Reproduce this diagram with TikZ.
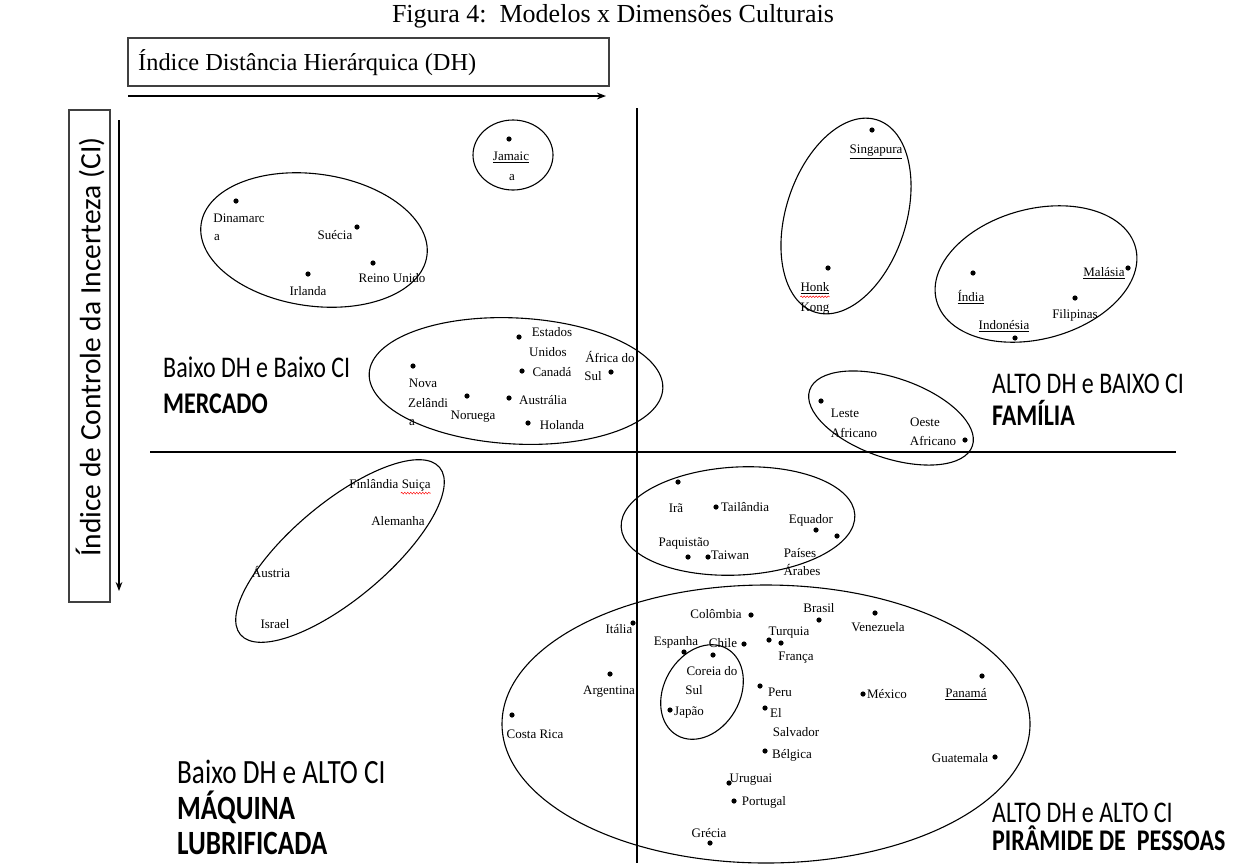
\documentclass[tikz,border=0pt]{standalone}
\usepackage{fontspec}
\setmainfont{Liberation Serif}
\newfontfamily\quadfont[FakeStretch=0.8]{Carlito}
\newfontfamily\cifont{Carlito}
\usetikzlibrary{arrows.meta,decorations.pathmorphing}

\begin{document}
\begin{tikzpicture}[x=1pt,y=-1pt,
  country/.style={font=\fontsize{13}{14}\selectfont,inner sep=0pt},
  quad/.style={font=\quadfont\fontsize{30}{34}\selectfont,anchor=base west,inner sep=0pt},
  grp/.style={line width=1.1pt},
  axisline/.style={line width=2.2pt},
  boxline/.style={draw=black!75,line width=1.2pt},
  squig/.style={red,line width=0.5pt,decorate,decoration={snake,amplitude=0.8pt,segment length=3pt}}]
  \useasboundingbox (0,0) rectangle (1246,863);

  \node[font=\fontsize{26}{30}\selectfont,anchor=base] (title) at (613,22) {Figura 4:\ \ Modelos x Dimensões Culturais};

  % eixo DH
  \draw[boxline] (128,38) rectangle (609,86);
  \node[anchor=west,inner sep=0pt,font=\fontsize{24.4}{28}\selectfont] (dh) at (138,63) {Índice Distância Hierárquica (DH)};
  \coordinate (dhs) at (128,96);
  \coordinate (dhe) at (606,96);
  \draw[-{Stealth[length=9pt]},line width=1.6pt] (dhs) -- (dhe);

  % eixo CI
  \draw[boxline] (69,110) rectangle (110,602);
  \node[rotate=90,inner sep=0pt,font=\cifont\fontsize{29.5}{34}\selectfont] (ci) at (90,347) {Índice de Controle da Incerteza (CI)};
  \coordinate (cis) at (119,120);
  \coordinate (cie) at (119,591);
  \draw[-{Stealth[length=9pt]},line width=1.2pt] (cis) -- (cie);

  % quadrantes
  \coordinate (hl) at (150,452);
  \coordinate (hr) at (1176,452);
  \coordinate (vt) at (637,108);
  \coordinate (vb) at (637,863);
  \draw[axisline] (hl) -- (hr);
  \draw[line width=1.8pt] (vt) -- (vb);

  \node[quad] (q1a) at (163,377) {Baixo DH e Baixo CI};
  \node[quad] (q1b) at (163,413) {\bfseries MERCADO};
  \node[quad] (q2a) at (992,393) {ALTO DH e BAIXO CI};
  \node[quad] (q2b) at (992,425) {\bfseries FAMÍLIA};
  \node[quad,font=\quadfont\fontsize{34}{38}\selectfont] (q3a) at (177,783) {Baixo DH e ALTO CI};
  \node[quad,font=\quadfont\fontsize{34}{38}\selectfont] (q3b) at (177,819) {\bfseries MÁQUINA};
  \node[quad,font=\quadfont\fontsize{34}{38}\selectfont] (q3c) at (177,854) {\bfseries LUBRIFICADA};
  \node[quad] (q4a) at (992,822) {ALTO DH e ALTO CI};
  \node[quad] (q4b) at (992,850) {\bfseries PIRÂMIDE DE\ \ PESSOAS};

  % grupos
  \draw[grp] (513,155) ellipse [x radius=40,y radius=35];
  \draw[grp,rotate around={-8:(314,240)}] (314,240) ellipse [x radius=114,y radius=66];
  \draw[grp,rotate around={-3:(516,381)}] (516,381) ellipse [x radius=147,y radius=63];
  \draw[grp,rotate around={-18:(846,216)}] (846,216) ellipse [x radius=60,y radius=101];
  \draw[grp,rotate around={15:(1036,274)}] (1036,274) ellipse [x radius=103,y radius=65];
  \draw[grp,rotate around={-19:(891,418)}] (891,418) ellipse [x radius=86,y radius=40];
  \draw[grp,rotate around={40:(340,551)}] (340,551) ellipse [x radius=130,y radius=48];
  \draw[grp,rotate around={3:(738,521)}] (738,521) ellipse [x radius=117,y radius=54];
  \draw[grp] (766,724) ellipse [x radius=264,y radius=139];
  \draw[grp,rotate around={-30:(702,692)}] (702,692) ellipse [x radius=38,y radius=50];

  % paises
  \foreach \n/\x/\y/\t in {jam1/511/157/{\underline{Jamaic}},jam2/512/178/a,
      din1/239/218/Dinamarc,din2/217/238/a,sue/335/235/Suécia,reino/392/278/Reino Unido,irl/308/291/Irlanda,
      est1/552/332/Estados,est2/548/352/Unidos,afr1/610/357/África do,afr2/593/376/Sul,can/552/372/Canadá,
      nz1/423/383/Nova,nz2/428/403/Zelândi,nz3/412/423/a,nor/473/417/Noruega,aus/543/400/Austrália,hol/562/425/Holanda,
      sing/876/152/{\underline{Singapura}},hk1/815/288/{\underline{Honk}},hk2/815/309/Kong,
      ind/971/297/{\underline{Índia}},mal/1104/273/{\underline{Malásia}},fil/1075/315/Filipinas,indo/1004/326/{\underline{Indonésia}},
      les1/845/413/Leste,les2/854/433/Africano,oes1/925/422/Oeste,oes2/933/441/Africano,
      fin/390/485/Finlândia Suiça,ale/398/521/Alemanha,aut/271/572/Áustria,isr/275/624/Israel,
      ira/676/508/Irã,tai/745/507/Tailândia,equ/811/520/Equador,paq/684/543/Paquistão,twn/730/555/Taiwan,
      pai1/800/553/Países,pai2/802/570/Árabes,
      ita/619/629/Itália,col/716/614/Colômbia,bra/819/608/Brasil,ven/878/627/Venezuela,
      esp/676/642/Espanha,chi/723/643/Chile,tur/789/633/Turquia,fra/796/658/França,
      cor1/712/671/Coreia do,cor2/694/690/Sul,jap/689/712/Japão,arg/609/692/Argentina,cos/535/734/Costa Rica,
      per/780/692/Peru,els1/776/713/El,els2/796/732/Salvador,bel/792/755/Bélgica,mex/887/694/México,
      pan/966/694/{\underline{Panamá}},gua/960/758/Guatemala,uru/751/780/Uruguai,por/764/802/Portugal,gre/709/833/Grécia}
    \node[country] (\n) at (\x,\y) {\t};

  \foreach \x/\y in {509/139,236/201,357/227,373/263,308/274,519/337,611/372,522/371,413/366,467/396,509/398,528/423,
      872/130,828/268,973/273,1128/268,1075/298,1015/338,821/401,965/440,
      678/482,716/507,816/530,837/536,688/557,708/557,
      633/623,751/615,819/620,875/613,684/652,744/644,769/640,781/643,713/655,670/710,610/674,512/715,
      760/686,765/708,765/751,863/694,982/676,995/757,729/783,734/801,710/843}
    \fill (\x,\y) circle (2.6);

  \draw[squig] ([yshift=-3pt]hk1.south west) -- ([yshift=-3pt]hk1.south east);
  \draw[squig] ([xshift=-30pt,yshift=-2pt]fin.south east) -- ([yshift=-2pt]fin.south east);
\end{tikzpicture}
\end{document}
